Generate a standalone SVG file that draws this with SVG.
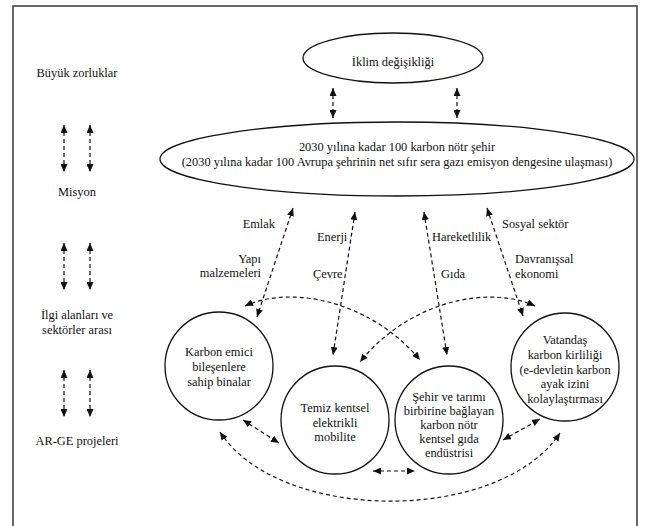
<svg xmlns="http://www.w3.org/2000/svg" width="649" height="526" viewBox="0 0 649 526">
<style>
text{font-family:'Liberation Serif','DejaVu Serif','Times New Roman',serif;font-size:12.4px;fill:#111;}
.m{text-anchor:middle;}
.e{text-anchor:end;}
.node{fill:#fff;stroke:#111;stroke-width:1.3;}
.c{fill:none;stroke:#111;stroke-width:1.2;stroke-dasharray:4 3;marker-start:url(#ah);marker-end:url(#ah);}
</style>
<defs>
<marker id="ah" markerUnits="userSpaceOnUse" markerWidth="9" markerHeight="7" refX="8" refY="3.5" orient="auto-start-reverse" viewBox="0 0 9 7">
<path d="M0,0 L8,3.5 L0,7 z" fill="#111"/>
</marker>
</defs>
<rect x="0" y="0" width="649" height="526" fill="#fff"/>
<rect x="13" y="6" width="624" height="530" fill="none" stroke="#444" stroke-width="1.6"/>
<g font-family="Liberation Serif, DejaVu Serif, Times New Roman, serif">
<g id="levels">
<text class="m" x="77" y="77">Büyük zorluklar</text>
<text class="m" x="77" y="196">Misyon</text>
<text class="m" x="77" y="319">İlgi alanları ve</text>
<text class="m" x="77" y="334">sektörler arası</text>
<text class="m" x="77" y="445">AR-GE projeleri</text>
</g>

<g id="node-iklim">
<ellipse class="node" cx="393" cy="58" rx="90" ry="25"/>
<text class="m" x="393" y="66">İklim değişikliği</text>
</g>
<g id="node-misyon">
<ellipse class="node" cx="397" cy="159" rx="237" ry="37"/>
<text class="m" x="397" y="151">2030 yılına kadar 100 karbon nötr şehir</text>
<text class="m" x="397" y="166">(2030 yılına kadar 100 Avrupa şehrinin net sıfır sera gazı emisyon dengesine ulaşması)</text>
</g>
<g id="node-karbon">
<circle class="node" cx="219" cy="366" r="54"/>
<text class="m" x="219" y="356">Karbon emici</text>
<text class="m" x="219" y="371">bileşenlere</text>
<text class="m" x="219" y="386">sahip binalar</text>
</g>
<g id="node-temiz">
<circle class="node" cx="335" cy="420" r="54"/>
<text class="m" x="335" y="412">Temiz kentsel</text>
<text class="m" x="335" y="427">elektrikli</text>
<text class="m" x="335" y="441">mobilite</text>
</g>
<g id="node-sehir">
<circle class="node" cx="449" cy="420" r="54"/>
<text class="m" x="449" y="401">Şehir ve tarımı</text>
<text class="m" x="449" y="415">birbirine bağlayan</text>
<text class="m" x="449" y="429">karbon nötr</text>
<text class="m" x="449" y="443">kentsel gıda</text>
<text class="m" x="449" y="457">endüstrisi</text>
</g>
<g id="node-vatandas">
<circle class="node" cx="565" cy="367" r="54"/>
<text class="m" x="565" y="344">Vatandaş</text>
<text class="m" x="565" y="359">karbon kirliliği</text>
<text class="m" x="565" y="374">(e-devletin karbon</text>
<text class="m" x="565" y="388">ayak izini</text>
<text class="m" x="565" y="403">kolaylaştırması</text>
</g>

<g id="labels">
<text class="e" x="275" y="228">Emlak</text>
<text class="e" x="261" y="263">Yapı</text>
<text class="e" x="261" y="277">malzemeleri</text>
<text x="317" y="241">Enerji</text>
<text x="313" y="278">Çevre</text>
<text x="432" y="241">Hareketlilik</text>
<text x="441" y="278">Gıda</text>
<text x="502" y="228">Sosyal sektör</text>
<text x="515" y="263">Davranışsal</text>
<text x="515" y="278">ekonomi</text>
</g>
</g>
<g id="connectors">
<line class="c" x1="64" y1="125" x2="64" y2="172"/>
<line class="c" x1="90" y1="125" x2="90" y2="172"/>
<line class="c" x1="64" y1="243" x2="64" y2="290"/>
<line class="c" x1="90" y1="243" x2="90" y2="290"/>
<line class="c" x1="64" y1="370" x2="64" y2="417"/>
<line class="c" x1="90" y1="370" x2="90" y2="417"/>
<line class="c" x1="333" y1="88" x2="333" y2="118"/>
<line class="c" x1="457" y1="88" x2="457" y2="118"/>
<line class="c" x1="293" y1="208" x2="257" y2="317"/>
<line class="c" x1="355" y1="212" x2="333" y2="355"/>
<line class="c" x1="424" y1="212" x2="447" y2="355"/>
<line class="c" x1="487" y1="208" x2="523" y2="316"/>
<path class="c" d="M245 306 C290 285 370 300 420 360"/>
<path class="c" d="M535 306 C490 285 410 300 360 362"/>
<line class="c" x1="243" y1="420" x2="279" y2="443"/>
<line class="c" x1="373" y1="471" x2="415" y2="471"/>
<line class="c" x1="503" y1="440" x2="540" y2="419"/>
<path class="c" d="M220 432 C280 524 500 524 560 433"/>
</g>
</svg>
